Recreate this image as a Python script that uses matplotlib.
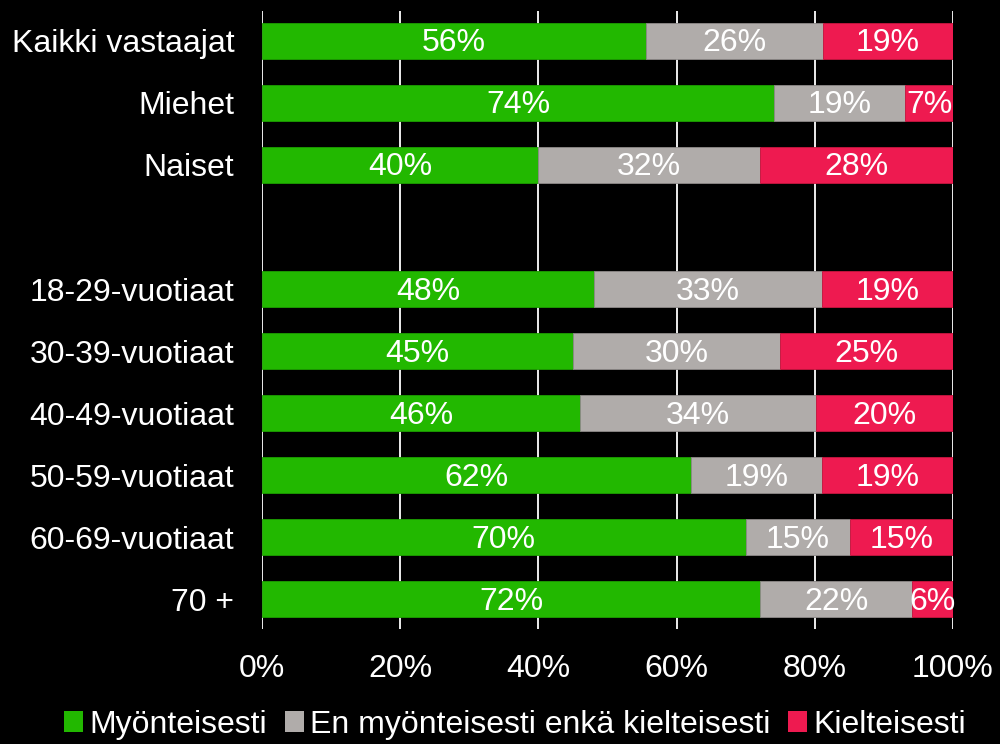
import numpy as np
import matplotlib
matplotlib.use("Agg")
import matplotlib.pyplot as plt

plt.rcParams['font.family'] = ['Liberation Sans', 'DejaVu Sans']

categories = ["Kaikki vastaajat", "Miehet", "Naiset", "",
              "18-29-vuotiaat", "30-39-vuotiaat", "40-49-vuotiaat",
              "50-59-vuotiaat", "60-69-vuotiaat", "70 +"]
series_names = ["Myönteisesti", "En myönteisesti enkä kielteisesti", "Kielteisesti"]
positive = [55.6, 74.1, 39.9, 0, 48.0, 45.0, 46.0, 62.1, 70.0, 72.1]
neutral = [25.6, 19.0, 32.2, 0, 33.0, 30.0, 34.2, 18.9, 15.1, 22.0]
negative = [18.8, 6.9, 27.9, 0, 19.0, 25.0, 19.8, 19.0, 14.9, 5.9]
colors = ["#22B800", "#B0ACAA", "#EE1A50"]
edge_colors = ["#1C9E00", "#8E8A89", "#C8163F"]
xticks = [0, 20, 40, 60, 80, 100]

FS = 23

fig = plt.figure(figsize=(10, 7.44), dpi=100, facecolor="black")
ax = fig.add_axes([0.262, 0.1546, 0.691, 0.8304])
ax.set_facecolor("black")

y = np.arange(len(categories))
left = np.zeros(len(categories))
for vals, name, col, ec in zip([positive, neutral, negative], series_names, colors, edge_colors):
    vals = np.array(vals, dtype=float)
    show = vals > 0
    ax.barh(y[show], vals[show], left=left[show], height=0.58, color=col,
            edgecolor=ec, linewidth=0.6, label=name, zorder=3)
    for yi, l, v in zip(y[show], left[show], vals[show]):
        ax.text(l + v / 2, yi + 0.04, f"{round(v):d}%", ha="center", va="center",
                color="white", fontsize=FS, zorder=4)
    left = left + vals

ax.set_xlim(0, 100)
ax.set_ylim(9.48, -0.48)
ax.set_xticks(xticks)
ax.set_xticklabels([f"{t}%" for t in xticks])
ax.set_yticks(y)
ax.set_yticklabels(categories)
ax.tick_params(axis="x", length=0, pad=18, colors="white", labelsize=FS)
ax.tick_params(axis="y", length=0, pad=20, colors="white", labelsize=FS)
ax.grid(axis="x", color="white", linewidth=1.3, zorder=1)
for s in ax.spines.values():
    s.set_visible(False)

leg = fig.legend(loc="lower center", bbox_to_anchor=(0.515, -0.033), ncol=3,
                 frameon=False, fontsize=FS, handlelength=0.6, handleheight=0.6,
                 handletextpad=0.2, columnspacing=0.55, labelcolor="white")
for h in leg.legend_handles:
    h.set_linewidth(0)

fig.savefig("out.png", dpi=100, facecolor="black")
